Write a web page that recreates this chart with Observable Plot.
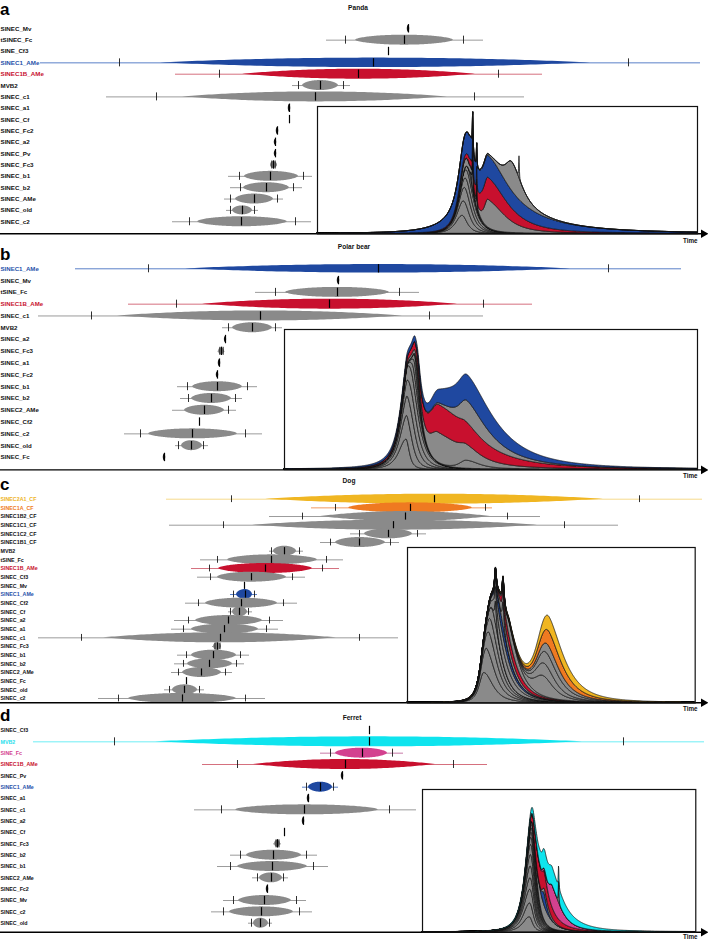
<!DOCTYPE html>
<html><head><meta charset="utf-8">
<script src="https://cdn.jsdelivr.net/npm/d3@7"></script>
<script src="https://cdn.jsdelivr.net/npm/@observablehq/plot@0.6"></script>
<style>
body{margin:0;background:#fff;}
#root{position:relative;width:708px;height:940px;overflow:hidden;font-family:"Liberation Sans",Arial,sans-serif;}
.abs{position:absolute;}
.letter{position:absolute;font-weight:bold;font-size:17px;line-height:normal;color:#000;}
.title{position:absolute;font-weight:bold;font-size:6.6px;line-height:1;color:#111;transform:translateX(-50%);white-space:nowrap;}
</style></head><body><div id="root"></div>
<script>
// ---------------- DATA ----------------
// Panel a: Panda
const aFamilies = ["SINEC_Mv","tSINEC_Fc","SINE_Cf3","SINEC1_AMe","SINEC1B_AMe","MVB2","SINEC_c1","SINEC_a1","SINEC_Cf","SINEC_Fc2","SINEC_a2","SINEC_Pv","SINEC_Fc3","SINEC_b1","SINEC_b2","SINEC_AMe","SINEC_old","SINEC_c2"];
const aMode    = [408,404,388,373,358,320,315,289,289,277,275,275,273,270,266,254,242,241];
const aBodyLo  = [406.8,355,null,160,242,302,182,287.8,null,275.8,273.8,273.8,270,244,243,235,232,197];
const aBodyHi  = [409.2,453,null,590,475,338,447,290.2,null,278.2,276.2,276.2,277,298,289,273,252,287];
const aCiLo    = [null,345,null,119,219,298,156,null,null,null,null,null,271.3,239,240,230,230,189];
const aCiHi    = [null,463,null,628,498,343,474,null,null,null,null,null,274.7,303,293,277,254,295];
const aRangeLo = [null,326,null,40,175,292,106,null,null,null,null,null,270,228,230,224,226,172];
const aRangeHi = [null,483,null,700,542,350,524,null,null,null,null,null,277,312,302,283,258,311];
const aDensity = [0.7,1,0,0.95,1,1,1,0.75,0,0.7,0.6,0.6,0.7,1,1,1,0.9,1];
const aLayerNames = ["SINEC_c2","SINEC_old","SINEC_AMe","SINEC_b2","SINEC_b1","SINEC_Fc3","SINEC_Pv","SINEC_a2","SINEC_Fc2","MVB2","SINEC_c1","SINEC1B_AMe","SINEC1_AMe","tSINEC_Fc","SINEC_Mv"];
const aLayerPeak  = [462,465,466,468,469,470,471,472.7,476.7,464,488,486,474,512,519];
const aLayerLeft  = [10,9,8,8,8,5,1.2,0.6,0.5,6,6,14,35,10,0.5];
const aLayerRight = [8,9,10,10,11,9,1.2,0.6,0.5,12,26,40,85,15,0.5];
const aLayerAmp   = [18,16,15,12,11,7,6,40,24,8,28,22,23,29,22];

// Panel b: Polar bear
const bFamilies = ["SINEC1_AMe","SINEC_Mv","tSINE_Fc","SINEC1B_AMe","SINEC_c1","MVB2","SINEC_a2","SINEC_Fc3","SINEC_a1","SINEC_Fc2","SINEC_b1","SINEC_b2","SINEC2_AMe","SINEC_Cf2","SINEC_c2","SINEC_old","SINEC_Fc"];
const bMode    = [378,338,337,329,260,252,225,221,219,217,217,211,204,199,192,191,164];
const bBodyLo  = [185,336.8,285,202,117,232,223.9,218,217.8,215.8,192,191,184,null,148,181,162.8];
const bBodyHi  = [570,339.2,389,457,402,272,226.1,224,220.2,218.2,242,231,224,null,237,202,165.2];
const bCiLo    = [148,null,275,176,91,228,null,219.3,null,null,187,188,null,null,140,178,null];
const bCiHi    = [608,null,399,483,429,275,null,222.7,null,null,247,235,228,null,245,203,null];
const bRangeLo = [75,null,255,128,38,222,null,217.5,null,null,177,180,172,null,124,175,null];
const bRangeHi = [681,null,419,532,483,282,null,224.5,null,null,257,242,236,null,262,208,null];
const bDensity = [0.85,0.7,1,1,1,1,0.6,0.7,0.7,0.6,1,1,1,0,1,1,0.7];
const bLayerNames = ["SINEC_old","SINEC_c2","SINEC2_AMe","SINEC_b2","SINEC_b1","SINEC_Fc2","SINEC_a1","SINEC_Fc3","MVB2","SINEC_Cf2","SINEC_c1","SINEC1B_AMe","tSINE_Fc","SINEC1_AMe"];
const bLayerPeak  = [406,409,411,412,413,414,415,416,418,466,438,440,468,468];
const bLayerLeft  = [11,11,11,10,10,4,3,3,2.5,10,14,22,14,40];
const bLayerRight = [5,8,10,12,14,10,6,5,4,20,40,65,35,55];
const bLayerAmp   = [30,26,24,22,20,15,13,10,10,8,30,28,22,26];

// Panel c: Dog
const cFamilies = ["SINEC2A1_CF","SINEC1A_CF","SINEC1B2_CF","SINEC1C1_CF","SINEC1C2_CF","SINEC1B1_CF","MVB2","tSINE_Fc","SINEC1B_AMe","SINEC_Cf3","SINEC_Mv","SINEC1_AMe","SINEC_Cf2","SINEC_Cf","SINEC_a2","SINEC_a1","SINEC_c1","SINEC_Fc3","SINEC_b1","SINEC_b2","SINEC2_AMe","SINEC_Fc","SINEC_old","SINEC_c2"];
const cMode    = [434,410,405,393,388,359,284,271,265,251,244,245,241,239,228,224,220,217,213,209,201,186,184,182];
const cBodyLo  = [265,348,320,252,364,335,273,227,218,217,null,236,205,232,195,191,103,213,191,187,182,null,172,128];
const cBodyHi  = [603,472,490,537,412,385,296,317,312,286,null,252,277,247,262,258,336,221,236,232,221,null,197,236];
const cCiLo    = [231,335,302,223,359,330,271,217,209,210,null,233,198,230,188,183,81,214.5,186,183,178,null,169,118];
const cCiHi    = [639,485,507,564,417,390,299,326,322,292,null,254,283,248,269,266,359,219.5,240,236,225,null,199,245];
const cRangeLo = [166,311,269,169,350,320,269,200,191,197,null,230,185,228,174,171,38,212,177,174,171,null,164,98];
const cRangeHi = [702,492,540,618,426,399,303,343,339,305,null,257,297,252,283,278,398,221,249,244,232,null,204,265];
const cDensity = [1,1,1,1,1,1,1,1,1,1,0,1,1,1,1,1,1,0.8,1,1,1,0,1,1];
const cLayerNames = ["SINEC_c2","SINEC_old","SINEC2_AMe","SINEC_b2","SINEC_b1","SINEC_Fc3","SINEC_c1","SINEC_a1","SINEC1_AMe","SINEC_a2","SINEC_Cf","SINEC1B_AMe","SINEC_Cf3","tSINE_Fc","MVB2","SINEC1C1_CF","SINEC1B2_CF","SINEC1A_CF","SINEC2A1_CF"];
const cLayerPeak  = [484,487,490,492,494,495.7,497,499,500,503.3,503,505,510,543,545,548,550,550,550];
const cLayerLeft  = [7,6,6,6,6,1.2,6,6,5,1.2,5,5,5,14,14,14,14,15,16];
const cLayerRight = [14,14,14,14,14,1.5,20,18,16,1.5,16,22,16,16,18,22,24,26,32];
const cLayerAmp   = [30,26,21,18,17,22,16,14,11,24,11,11,14,20,13,13,10,15,15];

// Panel d: Ferret
const dFamilies = ["SINEC_Cf3","MVB2","SINE_Fc","SINEC1B_AMe","SINEC_Pv","SINEC1_AMe","SINEC_a1","SINEC_c1","SINEC_a2","SINEC_Cf","SINEC_Fc3","SINEC_b2","SINEC_b1","SINEC2_AMe","SINEC_Fc2","SINEC_Mv","SINEC_c2","SINEC_old"];
const dMode    = [369,369,362,345,342,320,308,304,303,284,277,273,272,271,267,264,261,260];
const dBodyLo  = [null,155,335,253,340.8,308,306.8,235,301.8,null,274,246,237,259,265.8,238,229,253];
const dBodyHi  = [null,582,387,435,343.2,332,309.2,378,304.2,null,280,301,307,282,268.2,291,293,268];
const dCiLo    = [null,114,330,237,null,306,null,221,null,null,275.5,240,230,257,null,233,223,251];
const dCiHi    = [null,623,392,453,null,333,null,389,null,null,278.5,306,313,283,null,296,299,269];
const dRangeLo = [null,33,320,202,null,302,null,194,null,null,273,230,217,252,null,223,211,248];
const dRangeHi = [null,704,403,487,null,338,null,416,null,null,281,317,328,288,null,306,312,272];
const dDensity = [0,1,1,1,0.7,1,0.75,1,0.7,0,0.7,1,1,1,0.7,1,1,1];
const dLayerNames = ["SINEC_old","SINEC_c2","SINEC_Mv","SINEC_Fc2","SINEC2_AMe","SINEC_b1","SINEC_b2","SINEC_Fc3","SINEC_Cf","SINEC_a2","SINEC_a1","SINEC_c1","SINEC1_AMe","SINEC_Pv","SINEC1B_AMe","SINE_Fc","SINEC_Cf3","MVB2"];
const dLayerPeak  = [529,530,530.5,531,531,531.5,532,532,533,534,533,540,543.5,545,537,552,558.3,545];
const dLayerLeft  = [10,10,10,9,9,9,8,6,5,5,4,6,2.5,3,6,5,0.5,12];
const dLayerRight = [5,6,6,6,6,7,7,7,8,8,6,14,4,8,20,14,0.5,30];
const dLayerAmp   = [15,14,14,12,12,12,11,8,7,7,5,16,12,6,20,22,22,20];

// ---------------- STYLE ----------------
const FILL = {blue:"#1f48a0", red:"#c8102e", yellow:"#f0b622", orange:"#ef7a21", cyan:"#0fe4ee", magenta:"#d3418f", gray:"#8a8a8a"};
const WHISK = {blue:"#5a80c8", red:"#d5707e", yellow:"#f6da8c", orange:"#f19a62", cyan:"#6eeef5", magenta:"#c77aa8", gray:"#9b9b9b"};
const LABEL = {blue:"#2752aa", red:"#c8102e", yellow:"#eeb21c", orange:"#ee7a20", cyan:"#28e0ec", magenta:"#d3418f", gray:"#111"};
const HL = {
  a:{SINEC1_AMe:"blue", SINEC1B_AMe:"red"},
  b:{SINEC1_AMe:"blue", SINEC1B_AMe:"red"},
  c:{SINEC2A1_CF:"yellow", SINEC1A_CF:"orange", SINEC1B_AMe:"red", SINEC1_AMe:"blue"},
  d:{MVB2:"cyan", SINE_Fc:"magenta", SINEC1B_AMe:"red", SINEC1_AMe:"blue"}
};

const root = document.getElementById("root");

function addDiv(cls, text, left, top){
  const el = document.createElement("div");
  el.className = cls; el.textContent = text;
  el.style.left = left + "px"; el.style.top = top + "px";
  root.appendChild(el);
}

function place(svg, left, top){
  const wrap = document.createElement("div");
  wrap.className = "abs"; wrap.style.left = left+"px"; wrap.style.top = top+"px";
  wrap.appendChild(svg); root.appendChild(wrap);
}

function panel(key, d, L){
  const hl = HL[key];
  const ck = n => hl[n] || "gray";
  const rows = d.names.map((name,i)=>({i, name, c:d.mode[i], lo:d.bodyLo[i], hi:d.bodyHi[i], cl:d.ciLo[i], ch:d.ciHi[i], wl:d.rangeLo[i], wh:d.rangeHi[i], dens:d.density[i], key:ck(name)}));
  const sp = L.sp, r0 = L.r0, H = L.height, T = L.top;
  const y0 = (T - r0)/sp, y1 = (T + H - r0)/sp;
  const axisIdx = (L.axis - r0)/sp;
  const halfMax = 5/sp;
  const tickH = L.tick/sp;
  const spindles = [];
  rows.forEach(r=>{
    if (r.lo == null) return;
    const span = r.hi - r.lo;
    const p = span > 150 ? 1.0 : 0.6;
    const dark = span < 4;
    for (let k=0;k<=80;k++){
      const u = -1 + 2*k/80;
      const x = u<0 ? r.c + u*(r.c-r.lo) : r.c + u*(r.hi-r.c);
      const t = halfMax*r.dens*Math.pow(Math.max(0,1-u*u), p);
      spindles.push({i:r.i, x, ya:r.i - t, yb:r.i + t, fill: dark ? "#111" : FILL[r.key]});
    }
  });
  const ticks = [];
  rows.forEach(r=>{ if (r.cl!=null) ticks.push({i:r.i, x:r.cl}); if (r.ch!=null) ticks.push({i:r.i, x:r.ch}); });
  const svg = Plot.plot({
    width:708, height:H, margin:0,
    style:{background:"transparent", overflow:"visible"},
    x:{domain:[0,708], range:[0,708], axis:null},
    y:{domain:[y0,y1], range:[0,H], axis:null},
    color:{type:"identity"},
    marks:[
      Plot.ruleY(rows.filter(r=>r.wl!=null), {y:"i", x1:"wl", x2:"wh", stroke:r=>WHISK[r.key], strokeWidth:1}),
      Plot.areaY(spindles, {x:"x", y1:"ya", y2:"yb", z:"i", fill:"fill", curve:"linear"}),
      Plot.ruleX(ticks, {x:"x", y1:r=>r.i - tickH, y2:r=>r.i + tickH, stroke:"#1a1a1a", strokeWidth:0.9}),
      Plot.ruleX(rows, {x:"c", y1:r=>r.i - tickH*1.05, y2:r=>r.i + tickH*1.05, stroke:"#000", strokeWidth:1.2}),
      Plot.text(rows, {x:()=>0, y:"i", text:"name", textAnchor:"start", fontSize:L.font, fontWeight:"bold", fontFamily:"'Liberation Sans', Arial, sans-serif", fill:r=>LABEL[r.key]}),
      Plot.ruleY([axisIdx], {x1:()=>0, x2:()=>703, stroke:"#000", strokeWidth:1.4}),
      Plot.dot([axisIdx], {x:()=>703, y:v=>v, symbol:"triangle", r:3.2, fill:"#000", rotate:90}),
      Plot.text([axisIdx], {x:()=>697, y:v=>v + L.timeDy/sp, text:()=>"Time", textAnchor:"end", fontSize:6.3, fontWeight:"bold", fontFamily:"'Liberation Sans', Arial, sans-serif", fill:"#111"})
    ]
  });
  place(svg, 0, T);
}

function inset(key, d, B){
  const hl = HL[key];
  const w = B.right - B.left, h = B.bottom - B.top;
  const data = [];
  d.names.forEach((n,j)=>{
    const c = d.peak[j], sl = d.left[j], sr = d.right[j], A = d.amp[j];
    const fill = FILL[hl[n] || "gray"];
    for (let x = B.left; x <= B.right + 1e-9; x += 0.25){
      const dd = x - c; const s = dd < 0 ? sl : sr;
      data.push({layer:j, x, v: A*Math.pow(1 + (dd/s)*(dd/s), -1.5), fill});
    }
  });
  const svg = Plot.plot({
    width:w, height:h, margin:0,
    style:{background:"white", overflow:"visible"},
    x:{domain:[B.left,B.right], range:[0,w], axis:null},
    y:{domain:[0,h], range:[h,0], axis:null},
    color:{type:"identity"},
    marks:[
      Plot.areaY(data, {x:"x", y:"v", z:"layer", fill:"fill", stroke:"#111", strokeWidth:0.75, curve:"linear"}),
      Plot.frame({stroke:"#111", strokeWidth:1.2})
    ]
  });
  place(svg, B.left, B.top);
}

// letters & titles
addDiv("letter","a",0,0);
addDiv("letter","b",0,245);
addDiv("letter","c",0,475);
addDiv("letter","d",0,706);
addDiv("title","Panda",358,5);
addDiv("title","Polar bear",354,244);
addDiv("title","Dog",349,478);
addDiv("title","Ferret",352,715);

panel("a", {names:aFamilies, mode:aMode, bodyLo:aBodyLo, bodyHi:aBodyHi, ciLo:aCiLo, ciHi:aCiHi, rangeLo:aRangeLo, rangeHi:aRangeHi, density:aDensity},
  {top:0, height:246, r0:28.3, sp:11.35, axis:233.3, font:6.2, tick:4, timeDy:7});
inset("a", {names:aLayerNames, peak:aLayerPeak, left:aLayerLeft, right:aLayerRight, amp:aLayerAmp}, {left:317, right:697, top:106, bottom:233.3});

panel("b", {names:bFamilies, mode:bMode, bodyLo:bBodyLo, bodyHi:bBodyHi, ciLo:bCiLo, ciHi:bCiHi, rangeLo:bRangeLo, rangeHi:bRangeHi, density:bDensity},
  {top:236, height:246, r0:268.3, sp:11.79, axis:469.4, font:6.1, tick:4, timeDy:6});
inset("b", {names:bLayerNames, peak:bLayerPeak, left:bLayerLeft, right:bLayerRight, amp:bLayerAmp}, {left:284, right:697, top:329.3, bottom:469.4});

panel("c", {names:cFamilies, mode:cMode, bodyLo:cBodyLo, bodyHi:cBodyHi, ciLo:cCiLo, ciHi:cCiHi, rangeLo:cRangeLo, rangeHi:cRangeHi, density:cDensity},
  {top:472, height:244, r0:498.7, sp:8.665, axis:702.2, font:5.3, tick:3.4, timeDy:6.5});
inset("c", {names:cLayerNames, peak:cLayerPeak, left:cLayerLeft, right:cLayerRight, amp:cLayerAmp}, {left:407.3, right:695, top:546.7, bottom:702.2});

panel("d", {names:dFamilies, mode:dMode, bodyLo:dBodyLo, bodyHi:dBodyHi, ciLo:dCiLo, ciHi:dCiHi, rangeLo:dRangeLo, rangeHi:dRangeHi, density:dDensity},
  {top:706, height:234, r0:730, sp:11.335, axis:931.7, font:5.3, tick:4, timeDy:4.3});
inset("d", {names:dLayerNames, peak:dLayerPeak, left:dLayerLeft, right:dLayerRight, amp:dLayerAmp}, {left:421.7, right:695, top:789, bottom:931.7});
</script></body></html>
